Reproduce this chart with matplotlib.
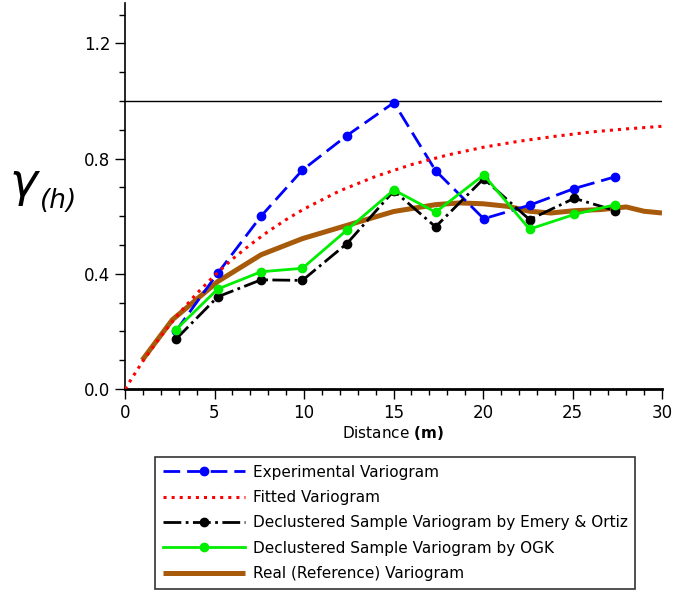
import matplotlib
matplotlib.use("Agg")
import matplotlib.pyplot as plt
from matplotlib.ticker import MultipleLocator, FixedLocator

# lag distances (m)
lags = [2.83, 5.18, 7.6, 9.91, 12.4, 15.02, 17.35, 20.04, 22.6, 25.1, 27.4]

experimental = [0.20, 0.402, 0.60, 0.76, 0.88, 0.994, 0.758, 0.591, 0.638, 0.696, 0.737]
emery_ortiz = [0.172, 0.32, 0.379, 0.377, 0.505, 0.688, 0.563, 0.730, 0.588, 0.662, 0.619]
ogk = [0.205, 0.347, 0.407, 0.419, 0.552, 0.691, 0.614, 0.743, 0.555, 0.606, 0.640]

# fitted model
fit_h = [0, 1, 2, 3, 4, 5, 6, 7, 8, 9, 10, 12, 14, 16, 18, 20, 22, 24, 26, 28, 30]
fit_g = [0, 0.097, 0.183, 0.261, 0.331, 0.394, 0.451, 0.501, 0.547, 0.588, 0.625,
         0.688, 0.738, 0.779, 0.812, 0.839, 0.860, 0.877, 0.892, 0.903, 0.912]

# real (reference) variogram
real_h = [0.96, 2.64, 5.18, 7.6, 9.91, 12.5, 15.0, 17.35, 18.7, 20.0, 21.4, 22.6,
          23.8, 25.1, 26.6, 28.0, 29.0, 30.0]
real_g = [0.10, 0.24, 0.373, 0.466, 0.522, 0.57, 0.616, 0.64, 0.646, 0.643, 0.634,
          0.617, 0.611, 0.619, 0.623, 0.632, 0.617, 0.611]

sill = 1.0

fig = plt.figure(figsize=(6.74, 5.94), dpi=100)
ax = fig.add_axes([125 / 674, 1 - 389 / 594, 537 / 674, 386 / 594])

ax.plot([0, 30], [sill, sill], color="black", lw=1.0, zorder=1)

l_real, = ax.plot(real_h, real_g, color="#A65A0A", lw=3.6, solid_capstyle="butt",
                  zorder=2, label="Real (Reference) Variogram")
l_exp, = ax.plot(lags, experimental, color="#0000FF", lw=2, dashes=(6, 2.5),
                 marker="o", ms=6, zorder=3, label="Experimental Variogram")
l_eo, = ax.plot(lags, emery_ortiz, color="black", lw=2, linestyle="-.",
                marker="o", ms=6, zorder=4,
                label="Declustered Sample Variogram by Emery & Ortiz")
l_ogk, = ax.plot(lags, ogk, color="#00EE00", lw=2, marker="o", ms=6, zorder=5,
                 label="Declustered Sample Variogram by OGK")
l_fit, = ax.plot(fit_h, fit_g, color="#FF0000", lw=2.2, linestyle=":",
                 zorder=6, label="Fitted Variogram")

ax.set_xlim(0, 30)
ax.set_ylim(0, 1.34)
ax.spines["top"].set_visible(False)
ax.spines["right"].set_visible(False)
ax.spines["left"].set_linewidth(1.2)
ax.spines["bottom"].set_linewidth(2)

ax.xaxis.set_major_locator(MultipleLocator(5))
ax.xaxis.set_minor_locator(MultipleLocator(1))
ax.yaxis.set_major_locator(FixedLocator([0, 0.4, 0.8, 1.2]))
ax.yaxis.set_minor_locator(MultipleLocator(0.1))
ax.set_yticklabels(["0.0", "0.4", "0.8", "1.2"])
ax.tick_params(which="major", length=7, width=1, labelsize=12)
ax.tick_params(which="minor", length=4, width=1)

ax.set_xlabel(r"Distance $\mathbf{(m)}$", fontsize=11, labelpad=2)
fig.text(25 / 674, 1 - 186 / 594, r"$\gamma$", fontsize=34,
         ha="center", va="center")
fig.text(40 / 674, 1 - 201 / 594, "(h)", fontsize=19, style="italic",
         ha="left", va="center")

handles = [l_exp, l_fit, l_eo, l_ogk, l_real]
leg = fig.legend(handles=handles, loc="upper left",
                 bbox_to_anchor=(155 / 674, 1 - 457 / 594), borderaxespad=0,
                 fontsize=11, handlelength=5.4, numpoints=1, frameon=True,
                 fancybox=False, edgecolor="black", borderpad=0.5,
                 labelspacing=0.68, handletextpad=0.5)
leg.get_frame().set_linewidth(1.2)

fig.savefig("out.png", dpi=100)
